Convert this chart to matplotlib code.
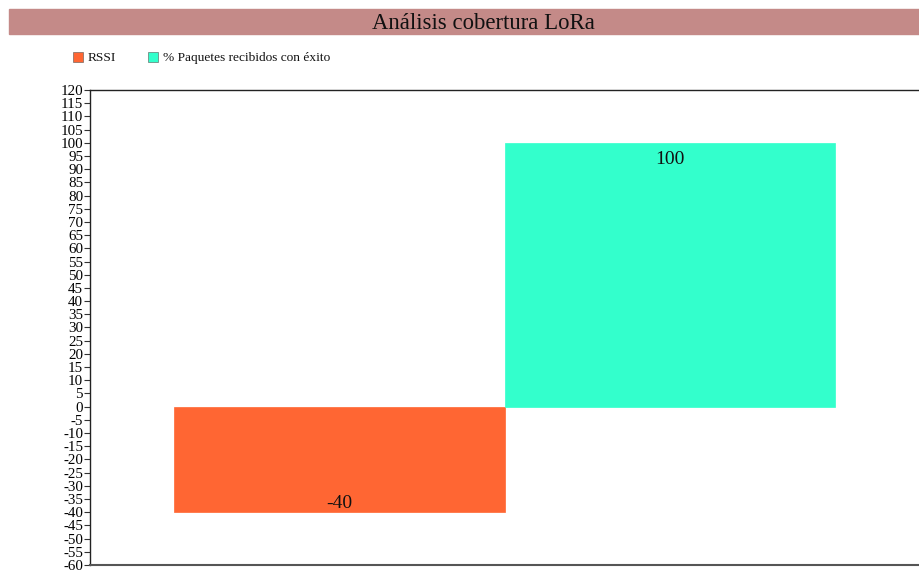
import matplotlib.pyplot as plt
from matplotlib.patches import Rectangle

categorias = ['RSSI', '% Paquetes recibidos con éxito']
valores = [-40, 100]
colores = ['#ff6633', '#33ffcc']
ticks_y = list(range(-60, 125, 5))

plt.rcParams['font.family'] = ['Liberation Serif', 'DejaVu Serif']

fig = plt.figure(figsize=(9.19, 5.70), dpi=100)
ax = fig.add_axes([90 / 919, 5 / 570, 829 / 919, 475 / 570])

barras = ax.bar(range(len(valores)), valores, width=1.0, color=colores,
                edgecolor=colores, linewidth=0.5)

# etiqueta de valor dentro del extremo de cada barra
for b, v in zip(barras, valores):
    x = b.get_x() + b.get_width() / 2
    y = v - 6.2 if v > 0 else v + 3.3
    ax.text(x, y, str(v), ha='center', va='center', fontsize=14, color='#111111')

ax.set_xlim(-0.5 - 0.254, 1.5 + 0.254)
ax.set_ylim(-60, 120)
ax.set_yticks(ticks_y)
ax.set_yticklabels([str(t) for t in ticks_y], fontsize=10.8, color='#000000')
ax.tick_params(axis='y', length=4, width=0.8, pad=1, color='#333333')
ax.set_xticks([])
ax.spines['right'].set_visible(False)
for s in ['left', 'top']:
    ax.spines[s].set_color('#222222')
    ax.spines[s].set_linewidth(1.0)
ax.spines['bottom'].set_color('#555555')
ax.spines['bottom'].set_linewidth(1.5)

# banda del titulo
fig.patches.append(Rectangle((9 / 919, 1 - 34 / 570), 1, 25 / 570,
                             transform=fig.transFigure, color='#c48a88', zorder=0))
fig.text(483 / 919, 1 - 23.5 / 570, 'Análisis cobertura LoRa', ha='center', va='center',
         fontsize=16.4, color='#111111')

# leyenda
leyenda_x = [73, 148]
for lx, cat, col in zip(leyenda_x, categorias, colores):
    fig.patches.append(Rectangle((lx / 919, 1 - 62 / 570), 10 / 919, 10 / 570,
                                 transform=fig.transFigure, facecolor=col,
                                 edgecolor='#555555', linewidth=0.4))
    fig.text((lx + 15) / 919, 1 - 58 / 570, cat, ha='left', va='center',
             fontsize=9.6, color='#111111')

fig.savefig('out.png', dpi=100)
